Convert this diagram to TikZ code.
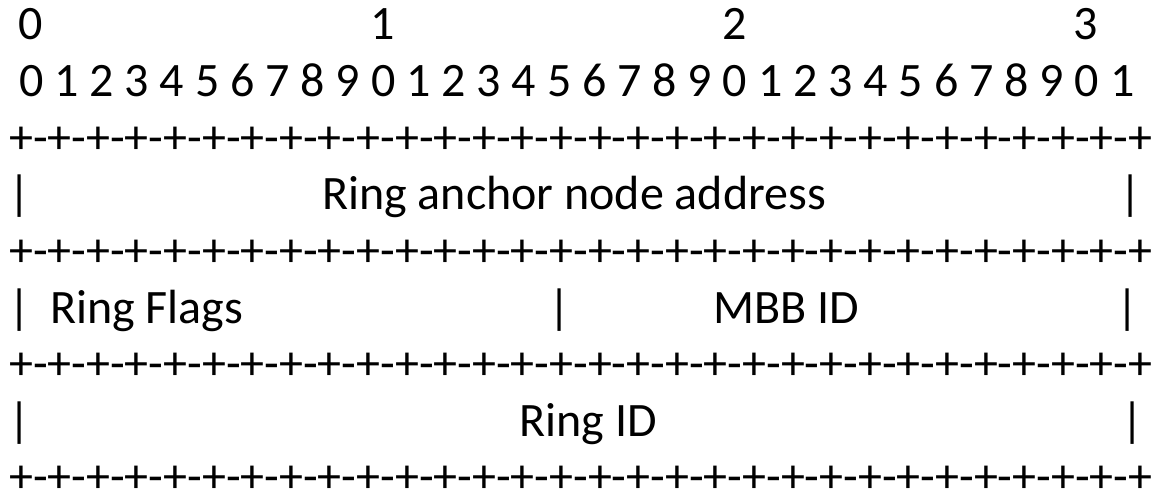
\documentclass[tikz,border=0pt]{standalone}
\usepackage{fontspec}
\setmainfont{Carlito}

\begin{document}
\begin{tikzpicture}[x=1pt, y=-1pt,
    cell/.style={inner sep=0, anchor=base, font=\fontsize{48}{57}\selectfont},
    rowtxt/.style={cell, anchor=base west}
  ]
  \useasboundingbox (0,0) rectangle (1155,499);

  % bit numbers
  \node[cell] (ten0) at (31,39) {0};
  \node[cell] (ten1) at (383,39) {1};
  \node[cell] (ten2) at (735,39) {2};
  \node[cell] (ten3) at (1086,39) {3};
  \node[rowtxt] (bits) at (19,96) {0 1 2 3 4 5 6 7 8 9 0 1 2 3 4 5 6 7 8 9 0 1 2 3 4 5 6 7 8 9 0 1};

  % separator lines
  \node[rowtxt] (sepa) at (9,153) {+-+-+-+-+-+-+-+-+-+-+-+-+-+-+-+-+-+-+-+-+-+-+-+-+-+-+-+-+-+};
  \node[rowtxt] (sepb) at (9,266) {+-+-+-+-+-+-+-+-+-+-+-+-+-+-+-+-+-+-+-+-+-+-+-+-+-+-+-+-+-+};
  \node[rowtxt] (sepc) at (9,379.5) {+-+-+-+-+-+-+-+-+-+-+-+-+-+-+-+-+-+-+-+-+-+-+-+-+-+-+-+-+-+};
  \node[rowtxt] (sepd) at (9,492) {+-+-+-+-+-+-+-+-+-+-+-+-+-+-+-+-+-+-+-+-+-+-+-+-+-+-+-+-+-+};

  % word 1
  \node[cell] (bara) at (20,209.5) {|};
  \node[cell] (anchoraddr) at (574,209.5) {Ring anchor node address};
  \node[cell] (barb) at (1131,209.5) {|};

  % word 2
  \node[cell] (barc) at (20,323) {|};
  \node[rowtxt] (flags) at (50,323) {Ring Flags};
  \node[cell] (bard) at (560,323) {|};
  \node[cell] (mbbid) at (786,323) {MBB ID};
  \node[cell] (bare) at (1128,323) {|};

  % word 3
  \node[cell] (barf) at (20,436.5) {|};
  \node[cell] (ringid) at (588,436.5) {Ring ID};
  \node[cell] (barg) at (1133,436.5) {|};
\end{tikzpicture}
\end{document}
